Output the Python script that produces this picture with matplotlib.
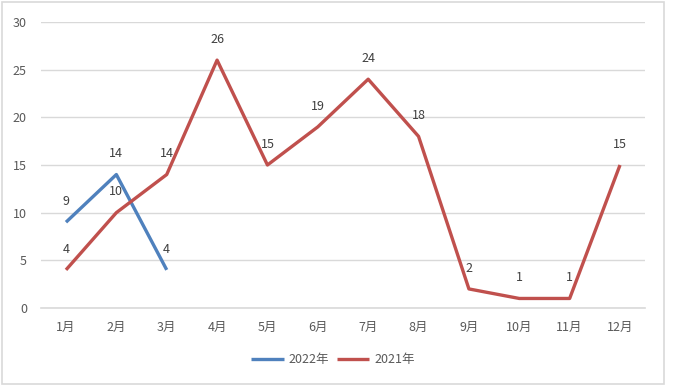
import matplotlib
matplotlib.use("Agg")
import matplotlib.pyplot as plt
from matplotlib.patches import Rectangle

plt.rcParams['font.family'] = ['Noto Sans CJK SC', 'DejaVu Sans']

months = ['1月', '2月', '3月', '4月', '5月', '6月', '7月', '8月', '9月', '10月', '11月', '12月']
y2022 = [9, 14, 4]
y2021 = [4, 10, 14, 26, 15, 19, 24, 18, 2, 1, 1, 15]

blue = '#4F81BD'
red = '#C0504D'
txt = '#404040'

W, H = 681, 389
fig = plt.figure(figsize=(W / 100, H / 100), dpi=100)
ax = fig.add_axes([40.8 / W, 1 - 308 / H, (645.2 - 40.8) / W, (308 - 22) / H])

x21 = list(range(len(y2021)))
x22 = list(range(len(y2022)))
ax.plot(x22, y2022, color=blue, lw=2.4, solid_capstyle='butt', label='2022年', zorder=3)
ax.plot(x21, y2021, color=red, lw=2.4, solid_capstyle='butt', label='2021年', zorder=3)

for xs, ys in ((x22, y2022), (x21, y2021)):
    for xi, yi in zip(xs, ys):
        ax.annotate(str(yi), (xi, yi), xytext=(0, 15), textcoords='offset points',
                    ha='center', va='center', fontsize=9, color=txt, zorder=4)

ax.set_xlim(-0.5, len(months) - 0.5)
ax.set_ylim(0, 30)
ax.set_yticks(range(0, 31, 5))
ax.set_xticks(x21)
ax.set_xticklabels(months)
ax.tick_params(length=0, labelsize=9, labelcolor='#595959')
ax.tick_params(axis='x', pad=9)
ax.tick_params(axis='y', pad=10)
ax.grid(axis='y', color='#D9D9D9', lw=1)
ax.axhline(0, color='#D9D9D9', lw=1.2, clip_on=False, zorder=1)
ax.set_axisbelow(True)
for s in ax.spines.values():
    s.set_visible(False)

fig.legend(loc='center', bbox_to_anchor=(333 / W, 1 - 360 / H), ncol=2, frameon=False,
           fontsize=9, labelcolor='#595959', handlelength=2.6, columnspacing=0.6,
           handletextpad=0.4)

fig.patches.append(Rectangle((1.5 / W, 5 / H), 662 / W, 382.5 / H, transform=fig.transFigure,
                             fill=False, edgecolor='#D9D9D9', lw=1.2))

fig.savefig('out.png', dpi=100)
